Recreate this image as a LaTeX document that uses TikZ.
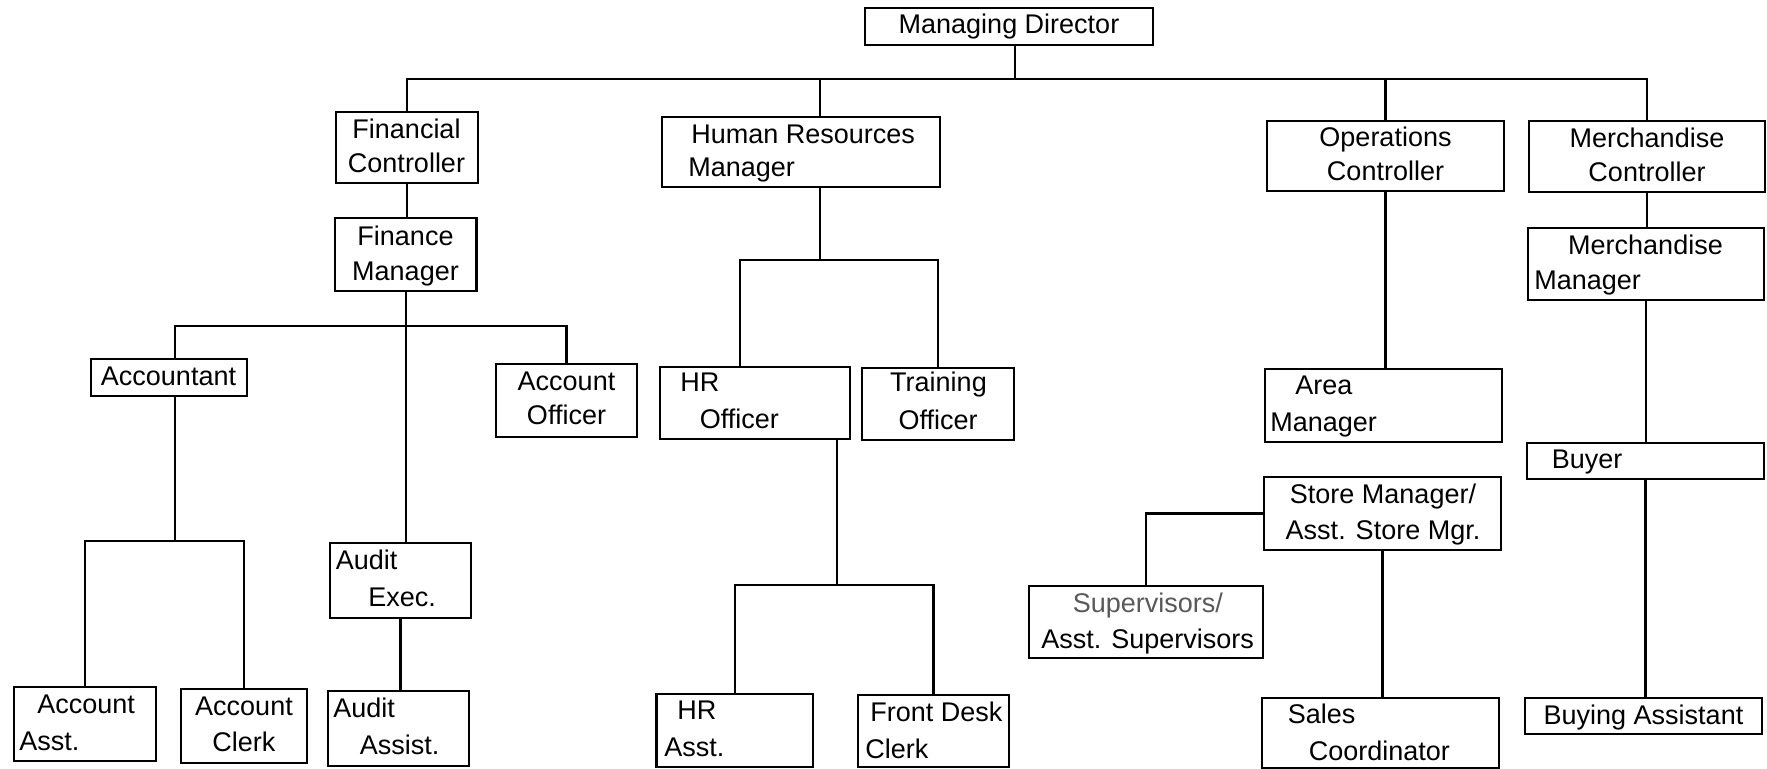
\documentclass[tikz,border=0pt]{standalone}
\usepackage{fontspec}
\setmainfont{Liberation Sans}
\usetikzlibrary{fit,calc}
\tikzset{
  orgbox/.style={draw, line width=1.1pt, inner sep=0pt},
  conn/.style={draw, line width=1.1pt},
  lbl/.style={inner sep=0pt, font=\fontsize{13.5}{16}\selectfont},
}
\newcommand\obox[5]{\coordinate (#1-a) at (#2,#3); \coordinate (#1-b) at (#4,#5); \node[orgbox, fit=(#1-a)(#1-b)] (#1) {};}
\newcommand\ltx[4]{\node[lbl, anchor=base west] (#1) at (#2,#3) {#4};}
\newcommand\ctx[4]{\node[lbl, anchor=base] (#1) at (#2,#3) {#4};}
\begin{document}
\begin{tikzpicture}[x=0.5pt, y=-0.5pt]
\fill[white] (0,0) rectangle (1767,769);
\useasboundingbox (0,0) rectangle (1767,769);

% boxes
\obox{md}{865}{8}{1153}{45}
\obox{fc}{336}{112}{478}{183}
\obox{fm}{335}{218}{476.5}{291}
\obox{hrm}{662}{117}{940}{187}
\obox{oc}{1267}{121}{1504}{191}
\obox{mc}{1529}{121}{1765}{192}
\obox{mm}{1528}{228}{1764}{300}
\obox{acct}{91}{359}{247}{396}
\obox{ao}{496}{364}{637}{437}
\obox{hro}{660}{367}{850}{439}
\obox{tro}{862}{368}{1014}{440}
\obox{am}{1265}{369}{1502}{442}
\obox{buyer}{1527}{443}{1764}{479}
\obox{sm}{1264}{477}{1501}{550}
\obox{sup}{1029}{586}{1263}{658}
\obox{ae}{330}{543}{471}{618}
\obox{aasst}{14}{687}{156}{761}
\obox{aclerk}{181}{689}{307}{763}
\obox{audass}{328}{691}{469}{766}
\obox{hra}{656.5}{694}{813}{767}
\obox{fdc}{858}{695}{1009}{767}
\obox{sc}{1262}{698}{1499}{768}
\obox{ba}{1525}{698}{1762}{734}

% texts
\ctx{md-t}{1009}{34}{Managing Director}
\ctx{fc-t1}{406.5}{139}{Financial}
\ctx{fc-t2}{406.5}{172.5}{Controller}
\ctx{fm-t1}{405.5}{246}{Finance}
\ctx{fm-t2}{405.5}{281}{Manager}
\ltx{hrm-t1}{691}{143.5}{Human Resources}
\ltx{hrm-t2}{688}{177}{Manager}
\ctx{oc-t1}{1385.5}{147}{Operations}
\ctx{oc-t2}{1385.5}{181}{Controller}
\ctx{mc-t1}{1647}{147.5}{Merchandise}
\ctx{mc-t2}{1647}{181.5}{Controller}
\ctx{mm-t1}{1645.5}{255}{Merchandise}
\ltx{mm-t2}{1534}{289.5}{Manager}
\ctx{acct-t}{168.5}{386}{Accountant}
\ctx{ao-t1}{566.5}{391}{Account}
\ctx{ao-t2}{566.5}{425}{Officer}
\ltx{hro-t1}{680}{391.5}{HR}
\ltx{hro-t2}{699.5}{428.5}{Officer}
\ctx{tro-t1}{938.5}{392}{Training}
\ctx{tro-t2}{938}{429.5}{Officer}
\ltx{am-t1}{1295}{395}{Area}
\ltx{am-t2}{1270}{431.5}{Manager}
\ltx{buyer-t}{1551.5}{468.5}{Buyer}
\ctx{sm-t1}{1383}{503.5}{Store Manager/}
\ctx{sm-t2}{1383}{540}{Asst. Store Mgr.}
\ltx{sup-t1}{1072.5}{612.5}{\color{black!65}Supervisors/}
\ltx{sup-t2}{1041}{648.5}{Asst. Supervisors}
\ltx{ae-t1}{335.5}{570}{Audit}
\ltx{ae-t2}{368}{606.5}{Exec.}
\ltx{aasst-t1}{37}{713.5}{Account}
\ltx{aasst-t2}{19}{750}{Asst.}
\ctx{aclerk-t1}{244}{715}{Account}
\ctx{aclerk-t2}{244}{751.5}{Clerk}
\ltx{audass-t1}{333}{717.5}{Audit}
\ltx{audass-t2}{359.5}{754}{Assist.}
\ltx{hra-t1}{677}{719.5}{HR}
\ltx{hra-t2}{664}{756.5}{Asst.}
\ltx{fdc-t1}{870}{721.5}{Front Desk}
\ltx{fdc-t2}{865}{758.5}{Clerk}
\ltx{sc-t1}{1287.5}{723.5}{Sales}
\ltx{sc-t2}{1308.5}{760}{Coordinator}
\ctx{ba-t}{1643.5}{725}{Buying Assistant}

% bus levels
\coordinate (bus) at (0,79);
\coordinate (fbus) at (0,326);
\coordinate (abus) at (0,541);
\coordinate (hrbus) at (0,260);
\coordinate (hrbus2) at (0,585);

% helper x positions
\coordinate (mdx) at ($(md.south west)!0.52!(md.south east)$);
\coordinate (hrmx) at ($(hrm.south west)!0.567!(hrm.south east)$);
\coordinate (hrox) at ($(hro.north west)!0.42!(hro.north east)$);
\coordinate (hrod) at ($(hro.south west)!0.925!(hro.south east)$);
\coordinate (acx) at ($(acct.north west)!0.54!(acct.north east)$);
\coordinate (acd) at ($(acct.south west)!0.54!(acct.south east)$);

% top level
\draw[conn] (fc.north) -- (fc.north |- bus) -- (mc.north |- bus) -- (mc.north);
\draw[conn] (mdx) -- (mdx |- bus);
\draw[conn] (hrmx |- hrm.north) -- (hrmx |- bus);
\draw[conn] (oc.north) -- (oc.north |- bus);

% finance
\draw[conn] (fc.south) -- (fc.south |- fm.north);
\draw[conn] (fm.south) -- (fm.south |- ae.north);
\draw[conn] (acx) -- (acx |- fbus) -- (ao.north |- fbus) -- (ao.north);
\draw[conn] (acd) -- (acd |- abus);
\draw[conn] (aasst.north) -- (aasst.north |- abus) -- (aclerk.north |- abus) -- (aclerk.north);
\draw[conn] (ae.south) -- (ae.south |- audass.north);

% HR
\draw[conn] (hrmx) -- (hrmx |- hrbus);
\draw[conn] (hrox) -- (hrox |- hrbus) -- (tro.north |- hrbus) -- (tro.north);
\draw[conn] (hrod) -- (hrod |- hrbus2);
\draw[conn] (hra.north) -- (hra.north |- hrbus2) -- (fdc.north |- hrbus2) -- (fdc.north);

% operations
\draw[conn] (oc.south) -- (oc.south |- am.north);
\draw[conn] (sm.west) -| (sup.north);
\draw[conn] (sm.south) -- (sm.south |- sc.north);

% merchandise
\draw[conn] (mc.south) -- (mc.south |- mm.north);
\draw[conn] (mm.south) -- (mm.south |- buyer.north);
\draw[conn] (buyer.south) -- (buyer.south |- ba.north);
\end{tikzpicture}
\end{document}
